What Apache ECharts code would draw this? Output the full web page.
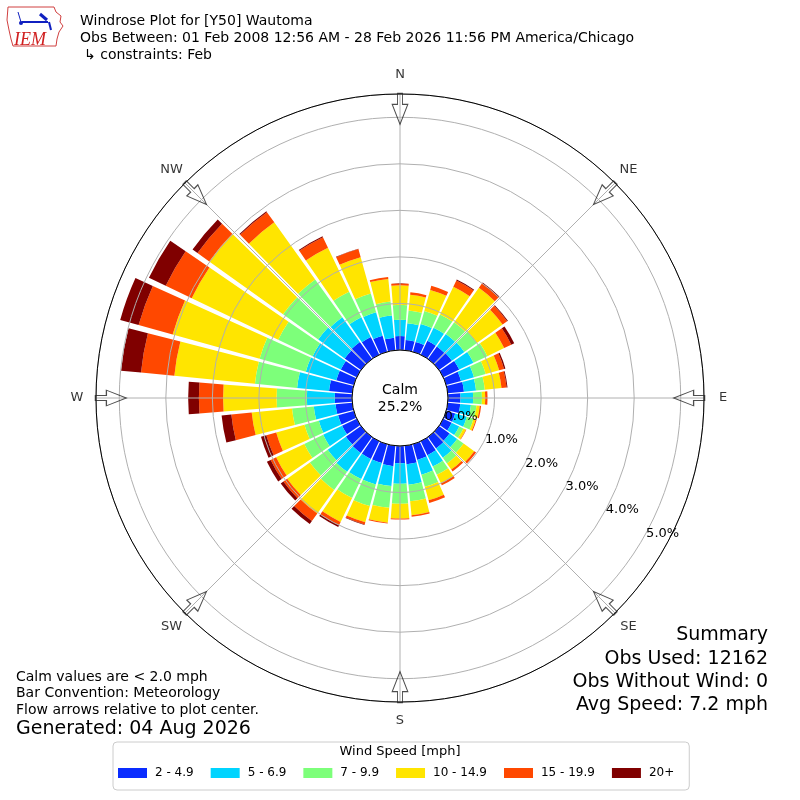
<!DOCTYPE html>
<html>
<head>
<meta charset="utf-8">
<script src="https://cdn.jsdelivr.net/npm/echarts@6/dist/echarts.min.js"></script>
<style>
html,body{margin:0;padding:0;background:#fff;}
#chart{width:800px;height:800px;}
</style>
</head>
<body>
<div id="chart"></div>
<script>
// Direction categories (degrees, meteorological "from" direction)
const directions = ['0','10','20','30','40','50','60','70','80','90','100','110','120','130','140','150','160','170',
                    '180','190','200','210','220','230','240','250','260','270','280','290','300','310','320','330','340','350'];
// Speed class names
const speedBins = ['2 - 4.9','5 - 6.9','7 - 9.9','10 - 14.9','15 - 19.9','20+'];
// Frequency (%) per direction for each speed class
const speed2to5   = [0.30,0.22,0.22,0.33,0.33,0.34,0.38,0.33,0.35,0.27,0.27,0.20,0.20,0.28,0.30,0.33,0.35,0.40,0.37,0.44,0.42,0.42,0.42,0.40,0.35,0.35,0.36,0.37,0.50,0.39,0.38,0.43,0.45,0.42,0.36,0.27];
const speed5to7   = [0.35,0.36,0.40,0.31,0.33,0.33,0.34,0.29,0.26,0.27,0.23,0.26,0.18,0.20,0.25,0.27,0.33,0.44,0.44,0.43,0.48,0.48,0.50,0.48,0.45,0.43,0.47,0.60,0.69,0.68,0.67,0.70,0.65,0.47,0.52,0.48];
const speed7to10  = [0.32,0.28,0.29,0.32,0.31,0.33,0.33,0.26,0.19,0.19,0.12,0.15,0.10,0.17,0.15,0.20,0.27,0.36,0.43,0.47,0.48,0.45,0.48,0.47,0.45,0.32,0.47,0.65,0.91,1.03,0.82,0.93,1.00,0.61,0.42,0.30];
const speed10to15 = [0.42,0.34,0.47,0.66,0.91,0.68,0.40,0.30,0.36,0.07,0.07,0.05,0.06,0.28,0.16,0.20,0.30,0.30,0.32,0.32,0.36,0.57,0.62,0.60,0.67,0.63,0.87,1.15,1.74,1.94,2.06,1.95,1.51,1.05,0.81,0.49];
const speed15to20 = [0.04,0.05,0.09,0.15,0.12,0.12,0.17,0.11,0.11,0.05,0.03,0.02,0.01,0.05,0.05,0.05,0.06,0.03,0.02,0.02,0.05,0.08,0.20,0.10,0.13,0.22,0.44,0.52,0.72,0.76,0.62,0.31,0.27,0.25,0.18,0.04];
const speed20plus = [0,0,0,0.02,0.02,0.02,0.07,0.03,0.02,0,0,0,0,0,0,0,0,0,0,0,0.01,0.04,0.08,0.07,0.09,0.12,0.21,0.23,0.43,0.41,0.40,0.13,0.02,0.02,0.01,0];
const speedColors = ['#0a2cff','#00d4ff','#7dff7a','#ffe500','#ff4800','#800000'];
// Compass labels and arrows
const compassAngles = [0,45,90,135,180,225,270,315];
const compassNames  = ['N','NE','E','SE','S','SW','W','NW'];
const radiusTicks = [0,1,2,3,4,5];
const calmPct = '25.2%';

const FONT = 'DejaVu Sans';
const chart = echarts.init(document.getElementById('chart'), null, {renderer:'canvas'});

const binData = [speed2to5, speed5to7, speed7to10, speed10to15, speed15to20, speed20plus];
const barSeries = speedBins.map((name, i) => ({
  name: name,
  type: 'bar',
  coordinateSystem: 'polar',
  polarIndex: 0,
  stack: 'ws',
  data: binData[i],
  barCategoryGap: '12%',
  itemStyle: {color: speedColors[i]},
  z: 2
}));

const arrowPath = 'path://M7.5 0 L14.5 0 L14.5 11 L22 11 L11 31 L0 11 L7.5 11 Z';
const arrowSeries = {
  type: 'scatter',
  coordinateSystem: 'polar',
  polarIndex: 1,
  symbol: arrowPath,
  symbolSize: [22, 31],
  symbolKeepAspect: true,
  silent: true,
  z: 10,
  itemStyle: {color: 'rgba(255,255,255,0)', borderColor: '#222', borderWidth: 1.1},
  data: compassAngles.map(a => ({value: [5.18, a], symbolRotate: -a}))
};

const compassLabelSeries = {
  type: 'scatter',
  coordinateSystem: 'polar',
  polarIndex: 3,
  symbolSize: 1,
  silent: true,
  z: 10,
  itemStyle: {color: 'rgba(0,0,0,0)'},
  label: {show: true, position: 'inside', formatter: p => p.name, color: '#000', fontSize: 13, fontFamily: FONT},
  data: compassAngles.map((a, i) => ({name: compassNames[i], value: [1, a]}))
};

const CENTER = [400, 398];
const RADII = [48, 304];

const option = {
  animation: false,
  backgroundColor: '#fff',
  textStyle: {fontFamily: FONT},
  polar: [
    {center: CENTER, radius: RADII},
    {center: CENTER, radius: RADII},
    {center: CENTER, radius: RADII},
    {center: CENTER, radius: [0, 323]}
  ],
  angleAxis: [
    {polarIndex: 0, type: 'category', data: directions, startAngle: 95, clockwise: true,
     axisLine: {show: false}, axisTick: {show: false}, axisLabel: {show: false}, splitLine: {show: false}},
    {polarIndex: 1, type: 'value', min: 0, max: 360, interval: 45, startAngle: 90, clockwise: true, z: 4,
     axisLine: {show: true, lineStyle: {color: '#000', width: 1}},
     axisTick: {show: false},
     axisLabel: {show: false},
     splitLine: {show: true, lineStyle: {color: '#b0b0b0', width: 1}}},
    {polarIndex: 2, type: 'value', min: 0, max: 360, startAngle: -30, clockwise: true, show: false},
    {polarIndex: 3, type: 'value', min: 0, max: 360, startAngle: 90, clockwise: true, show: false}
  ],
  radiusAxis: [
    {polarIndex: 0, type: 'value', min: 0, max: 5.5,
     axisLine: {show: false}, axisTick: {show: false}, axisLabel: {show: false}, splitLine: {show: false}},
    {polarIndex: 1, type: 'value', min: 0, max: 5.5, interval: 1, z: 3,
     axisLine: {show: false}, axisTick: {show: false}, axisLabel: {show: false},
     splitLine: {show: true, lineStyle: {color: '#b0b0b0', width: 1}}},
    {polarIndex: 2, type: 'value', min: 0, max: 5.5, interval: 1, z: 6,
     axisLine: {show: false}, axisTick: {show: false}, splitLine: {show: false},
     axisLabel: {show: true, fontSize: 13, color: '#000', fontFamily: FONT, margin: 6,
       formatter: v => radiusTicks.indexOf(v) >= 0 ? v.toFixed(1) + '%' : ''}},
    {polarIndex: 3, type: 'value', min: 0, max: 1, show: false}
  ],
  legend: {
    data: speedBins,
    left: 113,
    top: 742,
    orient: 'horizontal',
    icon: 'rect',
    itemWidth: 29,
    itemHeight: 10,
    itemGap: 17,
    padding: [25, 15, 11, 5],
    borderColor: '#cccccc',
    borderWidth: 1,
    borderRadius: 4,
    textStyle: {fontSize: 12, color: '#000', fontFamily: FONT, padding: [0, 0, 0, 3]},
    selectedMode: false
  },
  series: barSeries.concat([arrowSeries, compassLabelSeries]),
  graphic: [
    // Logo
    {type: 'polyline', shape: {points: [[8,7],[54,7],[56,12],[61,16],[60,22],[63,26],[59,32],[57,39],[56,46],[13,46],[11,39],[9,30],[7,20],[8,7]]},
     style: {stroke: '#d04040', fill: 'none', lineWidth: 1}},
    {type: 'line', shape: {x1: 22, y1: 22, x2: 48, y2: 22}, style: {stroke: '#1020c0', lineWidth: 2}},
    {type: 'line', shape: {x1: 40, y1: 14, x2: 47, y2: 20}, style: {stroke: '#1020c0', lineWidth: 3}},
    {type: 'line', shape: {x1: 49, y1: 22, x2: 51, y2: 30}, style: {stroke: '#1020c0', lineWidth: 2}},
    {type: 'line', shape: {x1: 18, y1: 12, x2: 21, y2: 22}, style: {stroke: '#1020c0', lineWidth: 1}},
    {type: 'circle', shape: {cx: 21, cy: 23, r: 2}, style: {fill: '#1020c0'}},
    {type: 'text', x: 14, y: 40, style: {text: 'IEM', font: 'italic 18px "Liberation Serif", serif', fill: '#d02020', textVerticalAlign: 'middle'}},
    // Title
    {type: 'text', x: 80, y: 21, style: {text: 'Windrose Plot for [Y50] Wautoma', font: '14px "DejaVu Sans"', fill: '#000', textVerticalAlign: 'middle'}},
    {type: 'text', x: 80, y: 38, style: {text: 'Obs Between: 01 Feb 2008 12:56 AM - 28 Feb 2026 11:56 PM America/Chicago', font: '14px "DejaVu Sans"', fill: '#000', textVerticalAlign: 'middle'}},
    {type: 'text', x: 84, y: 55, style: {text: '\u21B3 constraints: Feb', font: '14px "DejaVu Sans"', fill: '#000', textVerticalAlign: 'middle'}},
    // Calm
    {type: 'text', x: 400, y: 390, z: 20, style: {text: 'Calm', font: '14px "DejaVu Sans"', fill: '#000', textAlign: 'center', textVerticalAlign: 'middle'}},
    {type: 'text', x: 400, y: 407, z: 20, style: {text: calmPct, font: '14px "DejaVu Sans"', fill: '#000', textAlign: 'center', textVerticalAlign: 'middle'}},
    // Bottom-left notes
    {type: 'text', x: 16, y: 677, style: {text: 'Calm values are < 2.0 mph', font: '14px "DejaVu Sans"', fill: '#000', textVerticalAlign: 'middle'}},
    {type: 'text', x: 16, y: 693, style: {text: 'Bar Convention: Meteorology', font: '14px "DejaVu Sans"', fill: '#000', textVerticalAlign: 'middle'}},
    {type: 'text', x: 16, y: 710, style: {text: 'Flow arrows relative to plot center.', font: '14px "DejaVu Sans"', fill: '#000', textVerticalAlign: 'middle'}},
    {type: 'text', x: 16, y: 729, style: {text: 'Generated: 04 Aug 2026', font: '19px "DejaVu Sans"', fill: '#000', textVerticalAlign: 'middle'}},
    // Summary
    {type: 'text', x: 768, y: 635, style: {text: 'Summary', font: '19px "DejaVu Sans"', fill: '#000', textAlign: 'right', textVerticalAlign: 'middle'}},
    {type: 'text', x: 768, y: 659, style: {text: 'Obs Used: 12162', font: '19px "DejaVu Sans"', fill: '#000', textAlign: 'right', textVerticalAlign: 'middle'}},
    {type: 'text', x: 768, y: 682, style: {text: 'Obs Without Wind: 0', font: '19px "DejaVu Sans"', fill: '#000', textAlign: 'right', textVerticalAlign: 'middle'}},
    {type: 'text', x: 768, y: 705, style: {text: 'Avg Speed: 7.2 mph', font: '19px "DejaVu Sans"', fill: '#000', textAlign: 'right', textVerticalAlign: 'middle'}},
    // Legend title
    {type: 'text', x: 400, y: 752, z: 20, style: {text: 'Wind Speed [mph]', font: '13px "DejaVu Sans"', fill: '#000', textAlign: 'center', textVerticalAlign: 'middle'}}
  ]
};
chart.setOption(option);
</script>
</body>
</html>
